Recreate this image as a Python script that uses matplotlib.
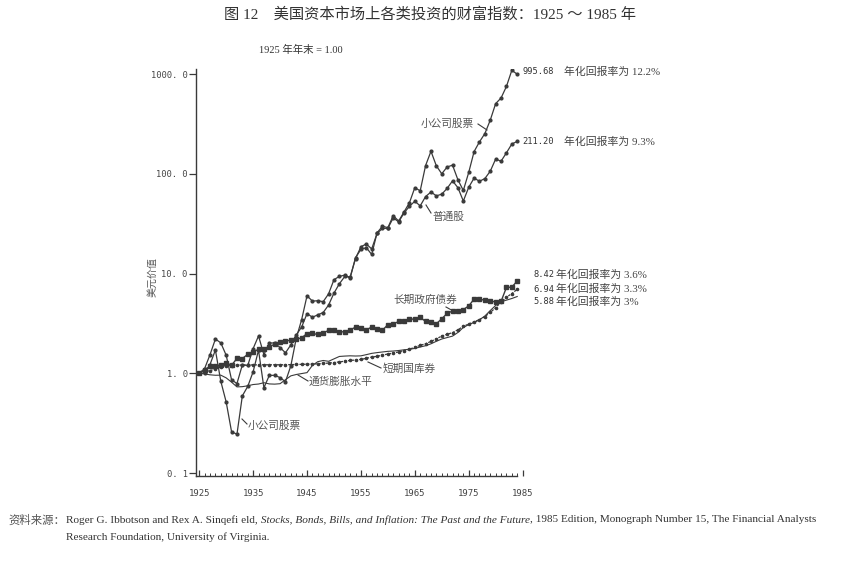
import matplotlib
matplotlib.use("Agg")
import matplotlib.pyplot as plt
from matplotlib.lines import Line2D

# ---------------- data (index, 1925 year-end = 1.00) ----------------
years = list(range(1925, 1985))

small_stocks = [1.000, 1.003, 1.224, 1.710, 0.832, 0.515, 0.259, 0.245, 0.594, 0.738,
                1.035, 1.705, 0.716, 0.951, 0.954, 0.905, 0.823, 1.190, 2.242, 3.446,
                5.983, 5.287, 5.336, 5.223, 6.254, 8.678, 9.354, 9.638, 9.012, 14.47,
                17.43, 18.17, 15.53, 25.60, 29.80, 28.82, 38.07, 33.54, 41.45, 51.19,
                72.57, 67.48, 121.0, 168.0, 120.0, 100.0, 117.0, 122.0, 87.0, 68.0,
                103.0, 167.0, 209.0, 253.0, 345.0, 505.0, 575.0, 750.0, 1090.0, 995.68]

common_stocks = [1.000, 1.116, 1.535, 2.204, 2.018, 1.516, 0.859, 0.789, 1.214, 1.197,
                 1.767, 2.367, 1.538, 2.016, 2.008, 1.812, 1.602, 1.927, 2.427, 2.906,
                 3.965, 3.645, 3.853, 4.065, 4.829, 6.360, 7.888, 9.336, 9.244, 14.108,
                 18.561, 19.778, 17.646, 25.298, 28.322, 28.455, 36.106, 32.954, 40.469, 47.139,
                 53.008, 47.674, 59.104, 65.642, 60.059, 62.465, 71.406, 84.956, 72.500, 53.311,
                 73.144, 90.584, 84.077, 89.592, 106.113, 140.514, 133.616, 162.223, 198.745, 211.20]

lt_gov_bonds = [1.000, 1.078, 1.174, 1.175, 1.215, 1.272, 1.204, 1.407, 1.406, 1.547,
                1.624, 1.746, 1.750, 1.847, 1.957, 2.076, 2.095, 2.155, 2.200, 2.261,
                2.503, 2.505, 2.449, 2.533, 2.692, 2.688, 2.584, 2.615, 2.709, 2.905,
                2.866, 2.717, 2.914, 2.768, 2.700, 3.072, 3.101, 3.315, 3.356, 3.475,
                3.500, 3.626, 3.312, 3.299, 3.136, 3.517, 3.982, 4.207, 4.162, 4.341,
                4.740, 5.532, 5.493, 5.424, 5.359, 5.150, 5.249, 7.25, 7.30, 8.42]

t_bills = [1.000, 1.033, 1.065, 1.103, 1.155, 1.183, 1.196, 1.207, 1.210, 1.211,
           1.213, 1.215, 1.217, 1.217, 1.217, 1.217, 1.218, 1.221, 1.225, 1.229,
           1.233, 1.237, 1.243, 1.253, 1.266, 1.281, 1.300, 1.321, 1.345, 1.357,
           1.378, 1.411, 1.455, 1.477, 1.521, 1.560, 1.593, 1.636, 1.688, 1.748,
           1.816, 1.903, 1.980, 2.083, 2.215, 2.360, 2.460, 2.554, 2.729, 2.949,
           3.118, 3.280, 3.450, 3.697, 4.079, 4.540, 5.183, 5.78, 6.30, 6.94]

inflation = [1.000, 0.985, 0.965, 0.955, 0.957, 0.899, 0.814, 0.730, 0.734, 0.749,
             0.771, 0.780, 0.804, 0.782, 0.778, 0.786, 0.862, 0.942, 0.972, 0.993,
             1.015, 1.199, 1.307, 1.343, 1.318, 1.394, 1.474, 1.487, 1.496, 1.489,
             1.495, 1.537, 1.583, 1.611, 1.635, 1.659, 1.670, 1.691, 1.719, 1.740,
             1.774, 1.834, 1.888, 1.974, 2.092, 2.205, 2.280, 2.358, 2.565, 2.876,
             3.077, 3.226, 3.440, 3.751, 4.254, 4.785, 5.209, 5.409, 5.617, 5.88]

y_ticks = [0.1, 1, 10, 100, 1000]
y_tick_labels = ["0. 1", "1. 0", "10. 0", "100. 0", "1000. 0"]
x_ticks = [1925, 1935, 1945, 1955, 1965, 1975, 1985]
x_tick_labels = ["1925", "1935", "1945", "1955", "1965", "1975", "1985"]

title = "图 12　美国资本市场上各类投资的财富指数：1925 ～ 1985 年"
subtitle = "1925 年年末 = 1.00"
ylabel = "美元价值"

# ---------------- styling ----------------
W, H = 855, 574
INK = "#3a3a3a"
TXT = "#444444"
CJK = ["Noto Sans CJK SC", "DejaVu Sans"]
SERIF_CJK = ["Liberation Serif", "Noto Sans CJK SC"]
MONO = "DejaVu Sans Mono"

def fx(x):
    return x / W

def fy(y):
    return 1 - y / H

fig = plt.figure(figsize=(W / 100, H / 100), dpi=100)
fig.patch.set_facecolor("white")
ax = fig.add_axes([fx(196), 0.1707, 326.6 / W, 0.7091])
ax.set_facecolor("white")

ax.plot(years, inflation, color=INK, lw=0.8)
ax.plot(years, t_bills, color=INK, lw=0.9, marker="o", ms=1.6, ls="--", dashes=(2, 1))
ax.plot(years, lt_gov_bonds, color=INK, lw=1.0, marker="s", ms=2.3)
ax.plot(years, common_stocks, color=INK, lw=0.9, marker="o", ms=2.0)
ax.plot(years, small_stocks, color=INK, lw=0.9, marker="o", ms=2.0)

ax.set_yscale("log")
ax.set_ylim(0.0933, 1123)
ax.set_xlim(1924.4, 1985.0)
ax.set_yticks(y_ticks)
ax.set_yticklabels(y_tick_labels, fontfamily=MONO, fontsize=6.3, color=TXT)
ax.yaxis.set_minor_locator(matplotlib.ticker.NullLocator())
ax.tick_params(axis="y", which="major", direction="out", length=5, width=0.9,
               colors=INK, pad=1)
ax.set_xticks(x_ticks)
ax.set_xticklabels(x_tick_labels, fontfamily=MONO, fontsize=6.5, color=TXT)
ax.set_xticks(years, minor=True)
ax.tick_params(axis="x", which="major", direction="in", length=4, width=0.9,
               colors=INK, pad=9)
ax.tick_params(axis="x", which="minor", direction="in", length=2.2, width=0.7,
               colors=INK)
for lab in ax.get_yticklabels() + ax.get_xticklabels():
    lab.set_color(TXT)
for s in ["top", "right"]:
    ax.spines[s].set_visible(False)
for s in ["left", "bottom"]:
    ax.spines[s].set_color(INK)
    ax.spines[s].set_linewidth(1.0)
ax.spines["bottom"].set_bounds(1924.4, 1984.0)

# ---------------- texts ----------------
fig.text(fx(430), fy(14), title, fontsize=11, family=SERIF_CJK, color="#333333",
         ha="center", va="center")
fig.text(fx(259), fy(50), subtitle, fontsize=7.5, family=SERIF_CJK, color="#333333",
         ha="left", va="center")
fig.text(fx(152), fy(277), ylabel, fontsize=7.2, family=CJK, color="#555555",
         rotation=90, ha="center", va="center")

def leader(x0, y0, x1, y1):
    fig.add_artist(Line2D([fx(x0), fx(x1)], [fy(y0), fy(y1)], transform=fig.transFigure,
                          color=INK, lw=0.8))

lab_kw = dict(fontsize=7.7, family=CJK, color="#555555", va="center", ha="left")
fig.text(fx(421), fy(124), "小公司股票", **lab_kw)
leader(478, 124, 487, 130)
fig.text(fx(432), fy(217), "普通股", **lab_kw)
leader(426, 205, 431, 213)
fig.text(fx(393), fy(300), "长期政府债券", **lab_kw)
leader(446, 307, 455, 312)
fig.text(fx(383), fy(369), "短期国库券", **lab_kw)
leader(368, 362, 381, 368)
fig.text(fx(309), fy(382), "通货膨胀水平", **lab_kw)
leader(298, 375, 308, 381)
fig.text(fx(248), fy(426), "小公司股票", **lab_kw)
leader(242, 419, 247, 424)

num_kw = dict(fontsize=6.3, family=MONO, color="#333333", va="center", ha="left")
rate_kw = dict(fontsize=7.8, family=SERIF_CJK, color="#444444", va="center", ha="left")
fig.text(fx(522), fy(72), f"{small_stocks[-1]:.2f}", **num_kw)
fig.text(fx(564), fy(72), "年化回报率为 12.2%", **rate_kw)
fig.text(fx(522), fy(142), f"{common_stocks[-1]:.2f}", **num_kw)
fig.text(fx(564), fy(142), "年化回报率为 9.3%", **rate_kw)
fig.text(fx(533), fy(275), f"{lt_gov_bonds[-1]:.2f}", **num_kw)
fig.text(fx(556), fy(275), "年化回报率为 3.6%", **rate_kw)
fig.text(fx(533), fy(289), f"{t_bills[-1]:.2f}", **num_kw)
fig.text(fx(556), fy(289), "年化回报率为 3.3%", **rate_kw)
fig.text(fx(533), fy(302), f"{inflation[-1]:.2f}", **num_kw)
fig.text(fx(556), fy(302), "年化回报率为 3%", **rate_kw)

# ---------------- source note ----------------
fig.canvas.draw()
renderer = fig.canvas.get_renderer()

def runs(x, y, parts):
    for s, kw in parts:
        t = fig.text(fx(x), fy(y), s, va="center", ha="left", color="#333333", **kw)
        bb = t.get_window_extent(renderer)
        x = bb.x1

src_fs = 8.1
serif = dict(fontsize=src_fs, family="Liberation Serif")
italic = dict(fontsize=src_fs, family="Liberation Serif", style="italic")
fig.text(fx(8), fy(520), "资料来源：", fontsize=8.2, family=CJK, color="#555555",
         va="center", ha="left")
runs(66, 520, [("Roger G. Ibbotson and Rex A. Sinqefi eld,", serif),
               (" Stocks, Bonds, Bills, and Inflation: The Past and the Future", italic),
               (", 1985 Edition, Monograph Number 15, The Financial Analysts", serif)])
fig.text(fx(66), fy(537), "Research Foundation, University of Virginia.",
         color="#333333", va="center", ha="left", **serif)

fig.savefig("out.png", dpi=100, facecolor="white")
